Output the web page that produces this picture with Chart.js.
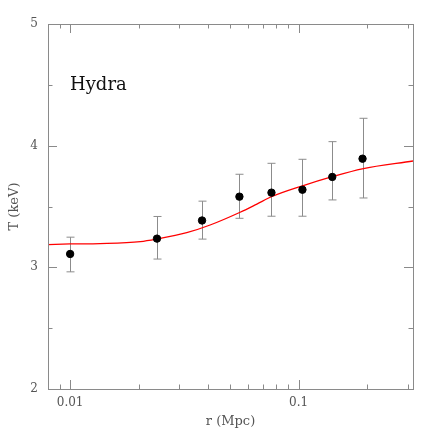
<!DOCTYPE html>
<html>
<head>
<meta charset="utf-8">
<script src="https://cdn.jsdelivr.net/npm/chart.js@4.4.0/dist/chart.umd.min.js"></script>
<style>
  body { margin: 0; background: #fff; }
  #wrap { width: 436px; height: 436px; }
</style>
</head>
<body>
<div id="wrap"><canvas id="chart" width="436" height="436"></canvas></div>
<script>
// measured points (r in Mpc, T in keV)
const radius = [0.01, 0.024, 0.0378, 0.0551, 0.0761, 0.104, 0.1405, 0.1906];
const temp = [3.11, 3.236, 3.385, 3.581, 3.614, 3.638, 3.743, 3.893];
const errLow = [2.963, 3.068, 3.232, 3.403, 3.42, 3.42, 3.554, 3.57];
const errHigh = [3.248, 3.418, 3.544, 3.765, 3.855, 3.888, 4.033, 4.225];

// model curve
const modelR = [0.008, 0.01, 0.0135, 0.0203, 0.024, 0.0324, 0.041, 0.0555, 0.0657, 0.0761, 0.1041, 0.1405, 0.19, 0.317];
const modelT = [3.187, 3.192, 3.195, 3.211, 3.233, 3.285, 3.348, 3.453, 3.52, 3.58, 3.67, 3.745, 3.81, 3.874];

// ticks
const xMajor = [0.01, 0.1];
const xLabels = ['0.01', '0.1'];
const xMinor = [0.008, 0.009, 0.02, 0.03, 0.04, 0.05, 0.06, 0.07, 0.08, 0.09, 0.2, 0.3];
const yMajor = [2, 3, 4, 5];
const yLabels = ['2', '3', '4', '5'];
const yMinor = [2.5, 3.5, 4.5];

const axisColor = '#8a8a8a';
const textColor = '#555';
const serif = 'DejaVu Serif';

// error bars drawn under the points
const errorBars = {
    id: 'errorBars',
    beforeDatasetsDraw(chart) {
        const ctx = chart.ctx;
        const xs = chart.scales.x, ys = chart.scales.y;
        ctx.save();
        ctx.strokeStyle = '#8c8c8c';
        ctx.lineWidth = 1;
        for (let i = 0; i < radius.length; i++) {
            const px = Math.round(xs.getPixelForValue(radius[i])) + 0.5;
            const top = ys.getPixelForValue(errHigh[i]);
            const bot = ys.getPixelForValue(errLow[i]);
            ctx.beginPath();
            ctx.moveTo(px, top); ctx.lineTo(px, bot);
            ctx.moveTo(px - 4, top); ctx.lineTo(px + 4, top);
            ctx.moveTo(px - 4, bot); ctx.lineTo(px + 4, bot);
            ctx.stroke();
        }
        ctx.restore();
    }
};

// frame, inward ticks on all four sides, and the label
const frame = {
    id: 'frame',
    afterDraw(chart) {
        const ctx = chart.ctx;
        const a = chart.chartArea;
        const xs = chart.scales.x, ys = chart.scales.y;
        ctx.save();
        ctx.strokeStyle = axisColor;
        ctx.lineWidth = 1;
        ctx.strokeRect(Math.round(a.left) + 0.5, Math.round(a.top) + 0.5,
            Math.round(a.right - a.left), Math.round(a.bottom - a.top));
        ctx.beginPath();
        function xTick(v, len) {
            const px = Math.round(xs.getPixelForValue(v)) + 0.5;
            ctx.moveTo(px, a.bottom); ctx.lineTo(px, a.bottom - len);
            ctx.moveTo(px, a.top); ctx.lineTo(px, a.top + len);
        }
        function yTick(v, len) {
            const py = Math.round(ys.getPixelForValue(v)) + 0.5;
            ctx.moveTo(a.left, py); ctx.lineTo(a.left + len, py);
            ctx.moveTo(a.right, py); ctx.lineTo(a.right - len, py);
        }
        xMajor.forEach(v => xTick(v, 9));
        xMinor.forEach(v => xTick(v, 4.5));
        yMajor.forEach(v => yTick(v, 9));
        yMinor.forEach(v => yTick(v, 4.5));
        ctx.stroke();

        ctx.fillStyle = '#111';
        ctx.font = '18px "' + serif + '"';
        ctx.textBaseline = 'alphabetic';
        ctx.textAlign = 'left';
        ctx.fillText('Hydra', 70, 90);
        ctx.restore();
    }
};

const ctx = document.getElementById('chart').getContext('2d');
const chart = new Chart(ctx, {
    type: 'scatter',
    data: {
        datasets: [{
            label: 'model',
            data: modelR.map((r, i) => ({x: r, y: modelT[i]})),
            showLine: true,
            borderColor: '#ff0000',
            borderWidth: 1.3,
            pointRadius: 0,
            cubicInterpolationMode: 'monotone',
            order: 2
        },
        {
            label: 'data',
            data: radius.map((r, i) => ({x: r, y: temp[i]})),
            backgroundColor: '#000',
            borderColor: '#000',
            pointRadius: 3.7,
            order: 1
        }]
    },
    options: {
        responsive: false,
        animation: false,
        layout: { padding: { top: 24, right: 23, left: 0, bottom: 0 } },
        plugins: {
            legend: { display: false },
            tooltip: { enabled: false }
        },
        scales: {
            x: {
                type: 'logarithmic',
                min: 0.008,
                max: 0.317,
                afterBuildTicks: s => { s.ticks = xMajor.map(v => ({value: v})); },
                afterFit: s => { s.height = 47; },
                grid: { display: false, drawTicks: false },
                border: { display: false },
                ticks: {
                    padding: 7,
                    color: textColor,
                    font: { family: serif, size: 12 },
                    maxRotation: 0,
                    autoSkip: false,
                    callback: v => xLabels[xMajor.indexOf(v)]
                },
                title: {
                    display: true,
                    text: 'r (Mpc)',
                    color: textColor,
                    font: { family: serif, size: 13 },
                    padding: { top: 0, bottom: 7 }
                }
            },
            y: {
                min: 2,
                max: 5,
                afterBuildTicks: s => { s.ticks = yMajor.map(v => ({value: v})); },
                afterFit: s => { s.width = 48; },
                grid: { display: false, drawTicks: false },
                border: { display: false },
                ticks: {
                    padding: 10,
                    color: textColor,
                    font: { family: serif, size: 12 },
                    callback: v => yLabels[yMajor.indexOf(v)]
                },
                title: {
                    display: true,
                    text: 'T (keV)',
                    color: textColor,
                    font: { family: serif, size: 13 },
                    padding: { top: 7, bottom: 0 }
                }
            }
        }
    },
    plugins: [errorBars, frame]
});
</script>
</body>
</html>
